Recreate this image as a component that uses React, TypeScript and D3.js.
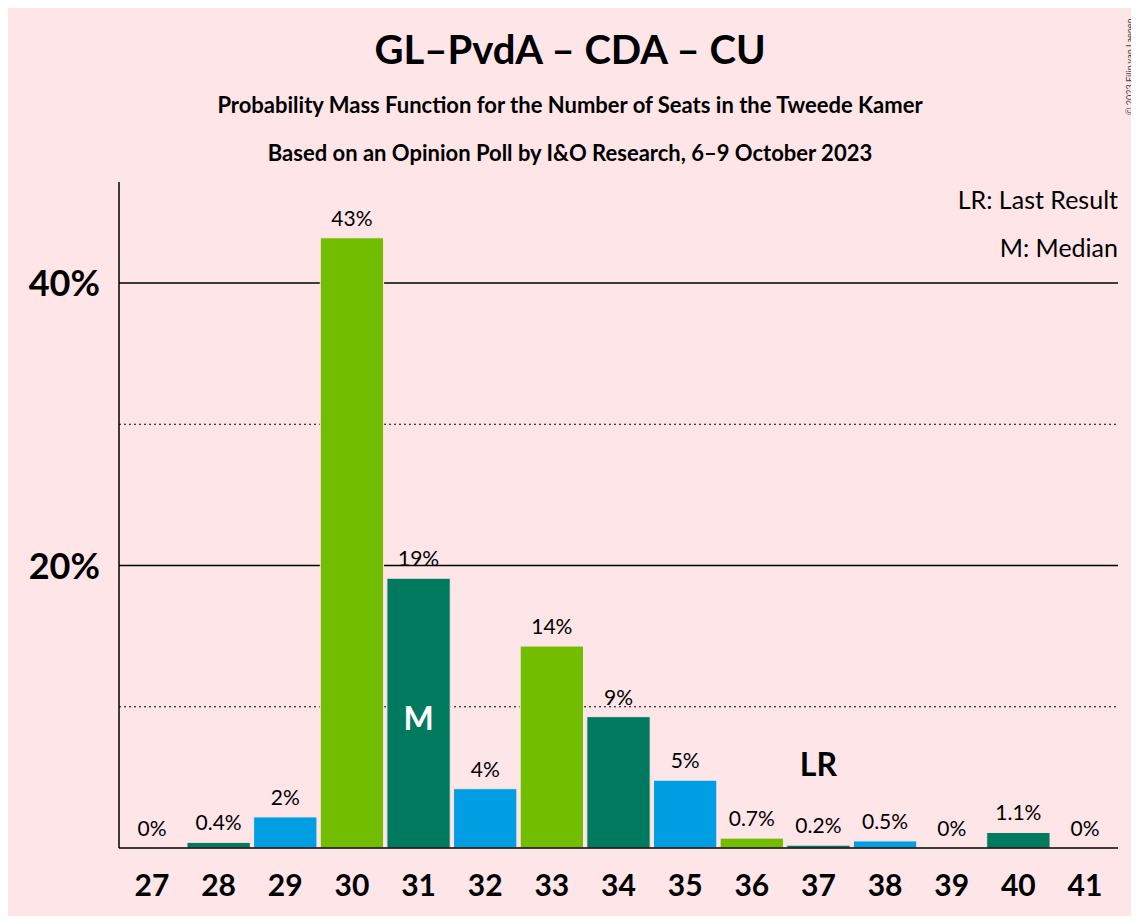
import * as d3 from "d3";
import React from "react";

const seats = [27, 28, 29, 30, 31, 32, 33, 34, 35, 36, 37, 38, 39, 40, 41];
const probs = [0, 0.4, 2.2, 43.2, 19.1, 4.2, 14.3, 9.3, 4.8, 0.7, 0.2, 0.5, 0, 1.1, 0];
const labels = ["0%", "0.4%", "2%", "43%", "19%", "4%", "14%", "9%", "5%", "0.7%", "0.2%", "0.5%", "0%", "1.1%", "0%"];
const palette = ["#73BD00", "#007A5E", "#009FE3"];
const medianSeat = 31;
const lastResultSeat = 37;

export default function App() {
  const width = 1139;
  const height = 924;
  const margin = { top: 182, right: 21, bottom: 76, left: 119 };
  const font = "Lato, 'Open Sans', sans-serif";

  const x = d3
    .scaleBand<number>()
    .domain(seats)
    .range([margin.left, width - margin.right])
    .paddingInner(0.05)
    .paddingOuter(0.02);
  const y = d3.scaleLinear().domain([0, 40]).range([height - margin.bottom, 283]);

  return (
    <svg width={width} height={height} style={{ display: "block", margin: -8, background: "#FDE5E8" }} fontFamily={font}>
      <rect width={width} height={height} fill="#FDE5E8" />
      <text x={570} y={64} textAnchor="middle" fontSize={40} fontWeight="bold">GL–PvdA – CDA – CU</text>
      <text x={570} y={113} textAnchor="middle" fontSize={22} fontWeight="bold">Probability Mass Function for the Number of Seats in the Tweede Kamer</text>
      <text x={570} y={161} textAnchor="middle" fontSize={22} fontWeight="bold">Based on an Opinion Poll by I&amp;O Research, 6–9 October 2023</text>
      <text transform="translate(1133,115) rotate(-90)" fontSize={9} fill="#444">© 2023 Filip van Laenen</text>

      {[10, 20, 30, 40].map((v) => (
        <line key={v} x1={margin.left} x2={width - margin.right} y1={y(v)} y2={y(v)}
          stroke="#000" strokeWidth={v % 20 === 0 ? 1.5 : 1} strokeDasharray={v % 20 === 0 ? undefined : "2,3"} />
      ))}
      {[20, 40].map((v) => (
        <text key={v} x={100} y={y(v) + 13} textAnchor="end" fontSize={36} fontWeight="bold">{v}%</text>
      ))}

      {seats.map((s, i) => (
        <g key={s}>
          <rect x={x(s)} y={y(probs[i])} width={x.bandwidth()} height={y(0) - y(probs[i])}
            fill={palette[i % 3]} stroke="#FDE5E8" strokeWidth={1} />
          <text x={x(s)! + x.bandwidth() / 2} y={y(probs[i]) - 12} textAnchor="middle" fontSize={21}>{labels[i]}</text>
          <text x={x(s)! + x.bandwidth() / 2} y={896} textAnchor="middle" fontSize={30} fontWeight="bold">{s}</text>
        </g>
      ))}
      <text x={x(medianSeat)! + x.bandwidth() / 2} y={730} textAnchor="middle" fontSize={32} fontWeight="bold" fill="#fff">M</text>
      <text x={x(lastResultSeat)! + x.bandwidth() / 2} y={776} textAnchor="middle" fontSize={32} fontWeight="bold">LR</text>

      <line x1={margin.left} x2={margin.left} y1={margin.top} y2={y(0)} stroke="#000" strokeWidth={1.5} />
      <line x1={margin.left} x2={width - margin.right} y1={y(0)} y2={y(0)} stroke="#000" strokeWidth={1.5} />

      <text x={1118} y={209} textAnchor="end" fontSize={25}>LR: Last Result</text>
      <text x={1118} y={257} textAnchor="end" fontSize={25}>M: Median</text>
    </svg>
  );
}
